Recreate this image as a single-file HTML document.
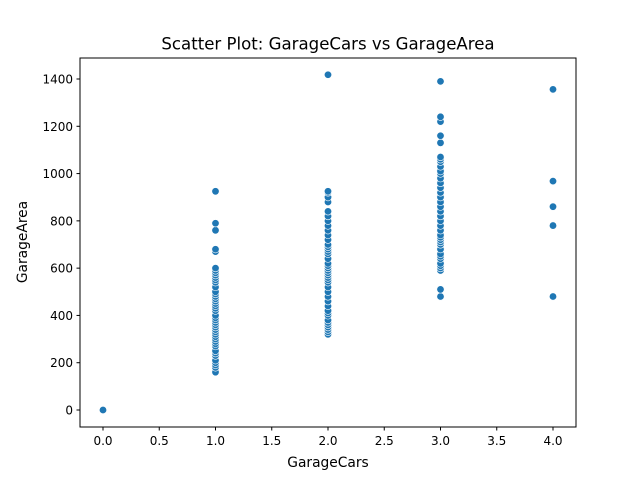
<!DOCTYPE html>
<html><head><meta charset="utf-8"><style>
body{margin:0;background:#fff}
svg{display:block;font-family:"DejaVu Sans","Liberation Sans",sans-serif}
</style></head><body>
<svg id="chart" width="640" height="480">
<rect width="640" height="480" fill="#fff"/>
<text x="328" y="49.5" text-anchor="middle" font-size="16.6">Scatter Plot: GarageCars vs GarageArea</text>
<g id="marks"></g>
<rect x="80" y="58" width="496" height="369" fill="none" stroke="#000" stroke-width="1"/>
<g id="xticks" font-size="12"></g>
<g id="yticks" font-size="12"></g>
<text x="328" y="467" text-anchor="middle" font-size="13.8">GarageCars</text>
<text transform="translate(27,242) rotate(-90)" text-anchor="middle" font-size="13.8">GarageArea</text>
</svg>
<script>
const xTickVals=[0,0.5,1,1.5,2,2.5,3,3.5,4];
const xTickLabels=["0.0","0.5","1.0","1.5","2.0","2.5","3.0","3.5","4.0"];
const yTickVals=[0,200,400,600,800,1000,1200,1400];
const area0=[0];
const area1=[160,180,190,200,210,230,240,250,270,280,290,300,310,320,330,340,350,360,370,380,390,400,420,430,440,450,460,470,480,490,500,520,540,550,560,570,580,590,600,670,680,760,790,925];
const area2=[320,330,340,350,360,370,380,400,410,420,440,460,480,500,520,540,550,560,570,580,590,600,610,620,640,660,670,680,690,700,720,740,760,780,800,820,840,880,900,920,925,1418];
const area3=[480,510,590,600,610,620,640,650,660,680,700,710,720,730,740,760,780,800,820,840,860,880,900,920,940,960,980,1000,1010,1030,1050,1060,1070,1130,1160,1220,1240,1390];
const area4=[480,780,860,968,1356];
const groups=[[0,area0],[1,area1],[2,area2],[3,area3],[4,area4]];
const NS="http://www.w3.org/2000/svg";
function xs(v){return 103+v*112.5;}
function ys(v){return 410-v*331/1400;}
const marks=document.getElementById('marks');
groups.forEach(([c,arr])=>{arr.forEach(a=>{
 const e=document.createElementNS(NS,'circle');
 e.setAttribute('cx',xs(c));e.setAttribute('cy',ys(a));e.setAttribute('r',3.7);
 e.setAttribute('fill','#1f77b4');e.setAttribute('stroke','#fff');e.setAttribute('stroke-width','0.6');
 
 
 marks.appendChild(e);});});
const xg=document.getElementById('xticks');
xTickVals.forEach((v,i)=>{
 const l=document.createElementNS(NS,'line');
 l.setAttribute('x1',xs(v));l.setAttribute('x2',xs(v));l.setAttribute('y1',427);l.setAttribute('y2',430.5);l.setAttribute('stroke','#000');
 
 
 xg.appendChild(l);
 const t=document.createElementNS(NS,'text');
 t.setAttribute('x',xs(v));t.setAttribute('y',445);t.setAttribute('text-anchor','middle');t.textContent=xTickLabels[i];
 
 
 xg.appendChild(t);});
const yg=document.getElementById('yticks');
yTickVals.forEach(v=>{
 const l=document.createElementNS(NS,'line');
 l.setAttribute('x1',76.5);l.setAttribute('x2',80);l.setAttribute('y1',ys(v));l.setAttribute('y2',ys(v));l.setAttribute('stroke','#000');
 
 
 yg.appendChild(l);
 const t=document.createElementNS(NS,'text');
 t.setAttribute('x',73);t.setAttribute('y',ys(v)+4.5);t.setAttribute('text-anchor','end');t.textContent=String(v);
 
 
 yg.appendChild(t);});
</script>
</body></html>
